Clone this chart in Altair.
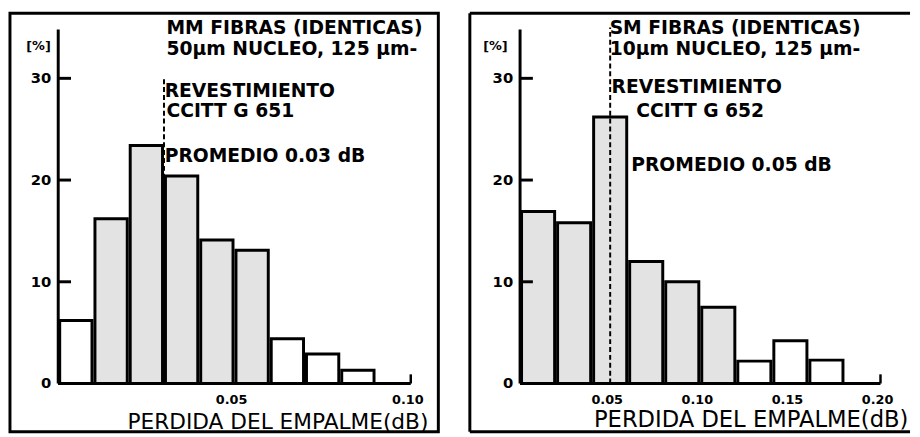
import altair as alt
import pandas as pd

FONT = "DejaVu Sans"

# ---------------- data ----------------
# MM fibres (left panel): 0.01 dB classes
mm_inicio = [0.00, 0.01, 0.02, 0.03, 0.04, 0.05, 0.06, 0.07, 0.08]
mm_fin = [0.01, 0.02, 0.03, 0.04, 0.05, 0.06, 0.07, 0.08, 0.09]
mm_pct = [6.2, 16.2, 23.4, 20.4, 14.1, 13.1, 4.4, 2.9, 1.3]
mm_relleno = ["liso", "punteado", "punteado", "punteado", "punteado",
              "punteado", "liso", "liso", "liso"]

# SM fibres (right panel): 0.02 dB classes
sm_inicio = [0.00, 0.02, 0.04, 0.06, 0.08, 0.10, 0.12, 0.14, 0.16]
sm_fin = [0.02, 0.04, 0.06, 0.08, 0.10, 0.12, 0.14, 0.16, 0.18]
sm_pct = [16.9, 15.8, 26.2, 12.0, 10.0, 7.5, 2.2, 4.2, 2.3]
sm_relleno = ["punteado", "punteado", "punteado", "punteado", "punteado",
              "punteado", "liso", "liso", "liso"]

y_ticks = [10, 20, 30]
y_etiquetas = [0, 10, 20, 30]

mm_x_vals = [0.05, 0.10]
mm_x_etiquetas = ["0.05", "0.10"]
sm_x_vals = [0.05, 0.10, 0.15, 0.20]
sm_x_etiquetas = ["0.05", "0.10", "0.15", "0.20"]

mm_promedio = 0.03
sm_promedio = 0.05

mm_notas = ["MM FIBRAS (IDENTICAS)", "50µm NUCLEO, 125 µm-", "REVESTIMIENTO",
            "CCITT G 651", "PROMEDIO 0.03 dB"]
mm_notas_x = [0.0307, 0.0307, 0.0302, 0.0307, 0.0302]
mm_notas_y = [34.4, 32.3, 28.2, 26.2, 21.8]

sm_notas = ["SM FIBRAS (IDENTICAS)", "10µm NUCLEO, 125 µm-", "REVESTIMIENTO",
            "CCITT G 652", "PROMEDIO 0.05 dB"]
sm_notas_x = [0.0497, 0.0497, 0.0508, 0.0645, 0.0617]
sm_notas_y = [34.4, 32.3, 28.6, 26.2, 20.9]

titulo_x = "PERDIDA DEL EMPALME(dB)"

# ---------------- layout ----------------
H = 425
Y_ZERO_PX = 376
Y_PPU = 10.33
Y_DOM = [-(H - Y_ZERO_PX) / Y_PPU, Y_ZERO_PX / Y_PPU]

L_W, R_W = 435, 447


def panel(inicio, fin, pct, relleno, xvals, xlabs, xmax, promedio, mean_top,
          notas, nx, ny, width, x0px, ppu, title_x, title_y, title_align,
          title_size, pct_dx, framed):
    xsc = alt.Scale(domain=[-x0px / ppu, (width - x0px) / ppu], nice=False, zero=False)
    ysc = alt.Scale(domain=Y_DOM, nice=False, zero=False)

    def X(f):
        return alt.X(f, type="quantitative", scale=xsc, axis=None)

    def Y(f):
        return alt.Y(f, type="quantitative", scale=ysc, axis=None)

    df = pd.DataFrame({"inicio": inicio, "fin": fin, "pct": pct, "relleno": relleno})
    df["base"] = 0.0

    bars = alt.Chart(df).mark_bar(
        stroke="black", strokeWidth=3, xOffset=1.5, x2Offset=-1.5
    ).encode(
        x=X("inicio"), x2="fin", y=Y("pct"), y2="base",
        fill=alt.Fill("relleno:N", legend=None,
                      scale=alt.Scale(domain=["liso", "punteado"],
                                      range=["white", "#e3e3e3"])),
    )

    yaxis = alt.Chart(pd.DataFrame({"x": [0.0], "y": [0.0], "y2": [34.8]})).mark_rule(
        color="black", strokeWidth=3).encode(x=X("x"), y=Y("y"), y2="y2")

    ticks = alt.Chart(pd.DataFrame({"x": [0.0] * len(y_ticks), "y": y_ticks})).mark_rule(
        color="black", strokeWidth=3, x2Offset=13).encode(x=X("x"), x2="x", y=Y("y"))

    base_line = alt.Chart(pd.DataFrame({"x": [0.0], "x2": [xmax], "y": [0.0]})).mark_rule(
        color="black", strokeWidth=3).encode(x=X("x"), x2="x2", y=Y("y"))

    end_tick = alt.Chart(pd.DataFrame({"x": [xmax], "y": [0.0], "y2": [0.9]})).mark_rule(
        color="black", strokeWidth=2.5).encode(x=X("x"), y=Y("y"), y2="y2")

    mean = alt.Chart(pd.DataFrame({"x": [promedio], "y": [0.0], "y2": [mean_top]})).mark_rule(
        color="black", strokeWidth=2, strokeDash=[5, 3]).encode(x=X("x"), y=Y("y"), y2="y2")

    ylabels = alt.Chart(pd.DataFrame({"x": [0.0] * len(y_etiquetas), "y": y_etiquetas,
                                      "t": [str(v) for v in y_etiquetas]})).mark_text(
        align="right", baseline="middle", dx=-7, font=FONT, fontSize=15,
        fontWeight="bold", color="black").encode(x=X("x"), y=Y("y"), text="t:N")

    xlabels = alt.Chart(pd.DataFrame({"x": xvals, "y": [0.0] * len(xvals), "t": xlabs})).mark_text(
        align="center", baseline="top", dy=11, dx=-3, font=FONT, fontSize=13,
        fontWeight="bold", color="black").encode(x=X("x"), y=Y("y"), text="t:N")

    pct_lab = alt.Chart(pd.DataFrame({"x": [0.0], "y": [33.2], "t": ["[%]"]})).mark_text(
        align="center", baseline="middle", dx=pct_dx, font=FONT, fontSize=13,
        fontWeight="bold", color="black").encode(x=X("x"), y=Y("y"), text="t:N")

    notes = alt.Chart(pd.DataFrame({"x": nx, "y": ny, "t": notas})).mark_text(
        align="left", baseline="alphabetic", font=FONT, fontSize=19,
        fontWeight="bold", color="black").encode(x=X("x"), y=Y("y"), text="t:N")

    title = alt.Chart(pd.DataFrame({"x": [title_x], "y": [title_y], "t": [titulo_x]})).mark_text(
        align=title_align, baseline="alphabetic", font=FONT, fontSize=title_size,
        color="black", clip=True).encode(x=X("x"), y=Y("y"), text="t:N")

    layers = [bars, yaxis, ticks, base_line, end_tick, mean, ylabels, xlabels,
              pct_lab, notes, title]

    if framed:
        view = alt.ViewBackground(stroke="black", strokeWidth=3)
    else:
        view = alt.ViewBackground(stroke="transparent")
        one = pd.DataFrame({"a": [0]})
        layers += [
            alt.Chart(one).mark_rule(color="black", strokeWidth=3).encode(
                x=alt.value(0), x2=alt.value(width), y=alt.value(0)),
            alt.Chart(one).mark_rule(color="black", strokeWidth=3).encode(
                x=alt.value(0), y=alt.value(0), y2=alt.value(H)),
            alt.Chart(one).mark_rule(color="black", strokeWidth=3).encode(
                x=alt.value(0), x2=alt.value(width), y=alt.value(H)),
        ]

    return alt.layer(*layers).properties(width=width, height=H, view=view)


left = panel(mm_inicio, mm_fin, mm_pct, mm_relleno, mm_x_vals, mm_x_etiquetas,
             0.10, mm_promedio, 30.0, mm_notas, mm_notas_x, mm_notas_y,
             L_W, 49, 3580, 0.105, -4.45, "right", 22, -20, True)

right = panel(sm_inicio, sm_fin, sm_pct, sm_relleno, sm_x_vals, sm_x_etiquetas,
              0.20, sm_promedio, 35.0, sm_notas, sm_notas_x, sm_notas_y,
              R_W, 51, 1830, 0.041, -4.26, "left", 23, -25, False)

chart = alt.hconcat(left, right, spacing=28).properties(
    padding=0, background="white"
)

chart.save("out.html", embed_options={"renderer": "svg", "actions": False})
